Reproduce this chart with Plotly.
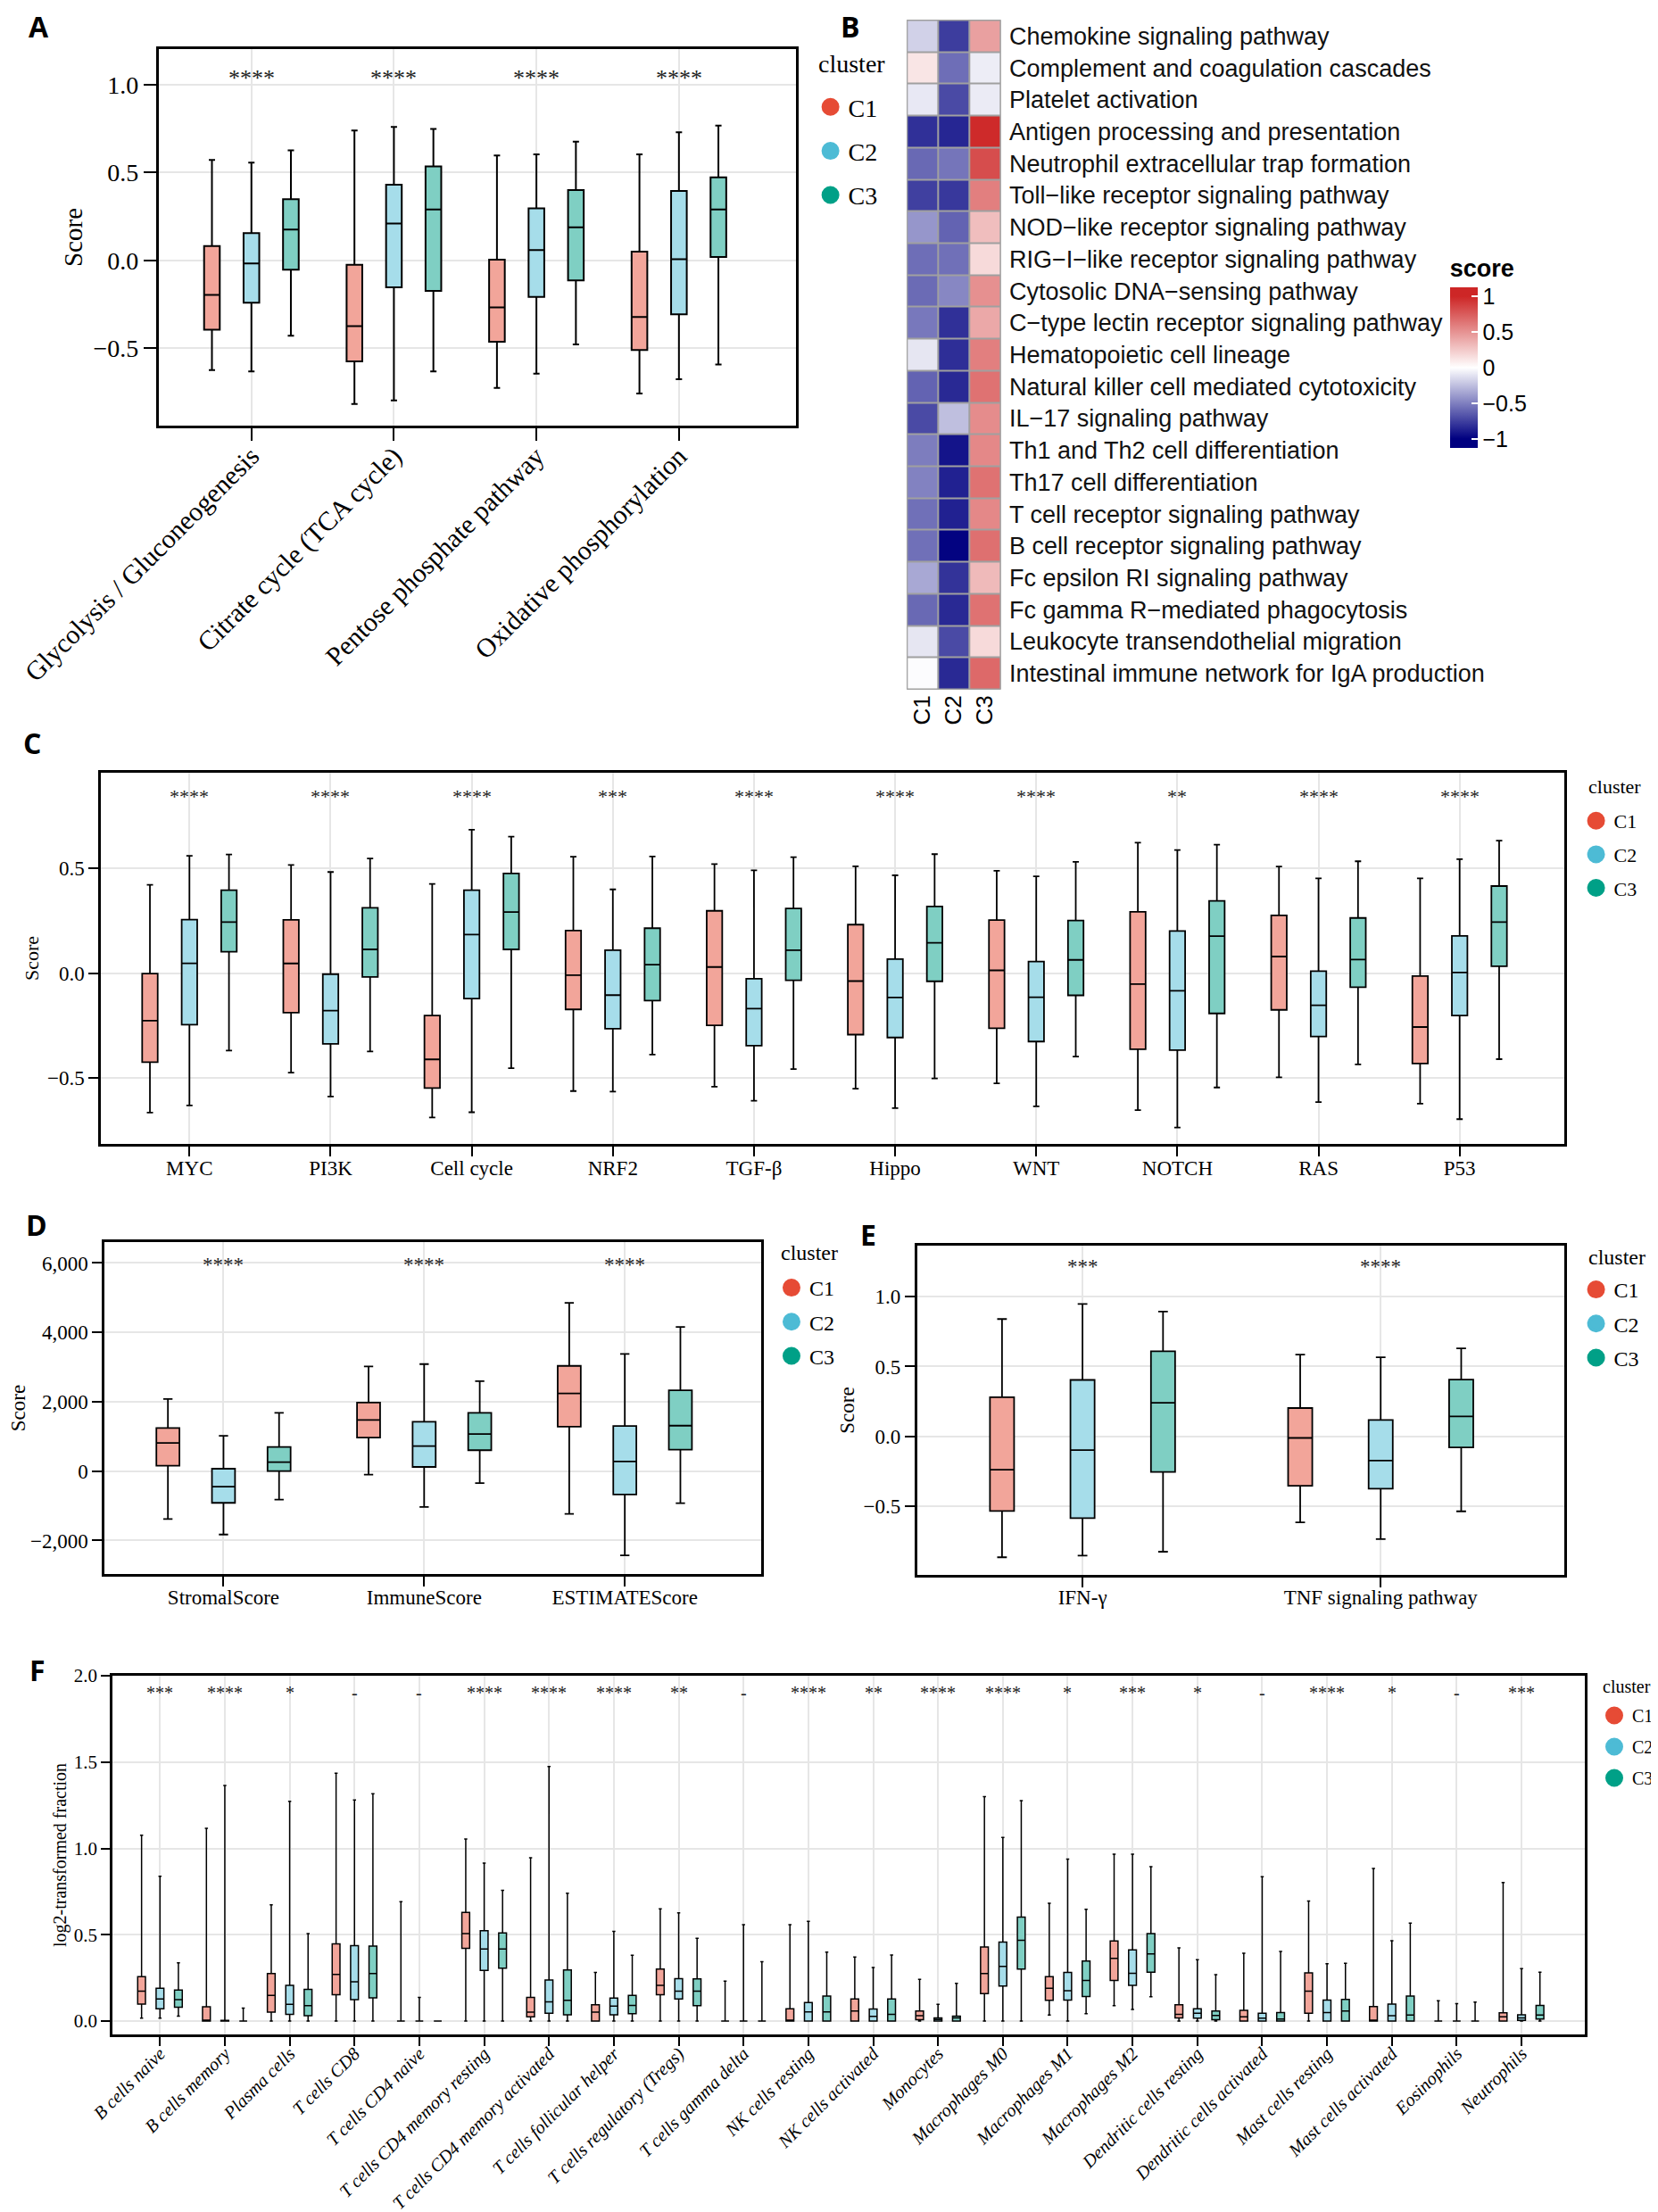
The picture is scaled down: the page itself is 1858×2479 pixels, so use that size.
import plotly.graph_objects as go

W, H = 1858, 2479
OFFY = 8                    # default page margin of the html body
OFFX = 4
FW, FH = W - 8, H - 8       # figure size so that it fits the window exactly
SERIF = "Liberation Serif"
SANS = "Liberation Sans"
clusters = ["C1", "C2", "C3"]
C_COL = {"C1": "#E64B35", "C2": "#4DBBD5", "C3": "#00A087"}
C_FILL = {"C1": "#F2A59A", "C2": "#A6DDEA", "C3": "#7FCFC3"}

# ---------------- Panel A (low, q1, median, q3, high) ----------------
A_categories = ["Glycolysis / Gluconeogenesis", "Citrate cycle (TCA cycle)",
                "Pentose phosphate pathway", "Oxidative phosphorylation"]
A_sig = ["****", "****", "****", "****"]
A_C1 = [(-0.624, -0.394, -0.196, 0.082, 0.572), (-0.817, -0.574, -0.374, -0.025, 0.740),
        (-0.725, -0.463, -0.267, 0.005, 0.597), (-0.757, -0.510, -0.322, 0.050, 0.604)]
A_C2 = [(-0.631, -0.240, -0.017, 0.156, 0.557), (-0.797, -0.153, 0.210, 0.431, 0.760),
        (-0.644, -0.208, 0.059, 0.297, 0.604), (-0.676, -0.307, 0.007, 0.396, 0.730)]
A_C3 = [(-0.428, -0.052, 0.176, 0.349, 0.626), (-0.631, -0.173, 0.290, 0.535, 0.748),
        (-0.478, -0.114, 0.188, 0.401, 0.676), (-0.592, 0.020, 0.290, 0.473, 0.767)]

# ---------------- Panel B heatmap ----------------
M = "\u2212"
B_pathways = ["Chemokine signaling pathway", "Complement and coagulation cascades",
              "Platelet activation", "Antigen processing and presentation",
              "Neutrophil extracellular trap formation", f"Toll{M}like receptor signaling pathway",
              f"NOD{M}like receptor signaling pathway", f"RIG{M}I{M}like receptor signaling pathway",
              f"Cytosolic DNA{M}sensing pathway", f"C{M}type lectin receptor signaling pathway",
              "Hematopoietic cell lineage", "Natural killer cell mediated cytotoxicity",
              f"IL{M}17 signaling pathway", "Th1 and Th2 cell differentiation",
              "Th17 cell differentiation", "T cell receptor signaling pathway",
              "B cell receptor signaling pathway", "Fc epsilon RI signaling pathway",
              f"Fc gamma R{M}mediated phagocytosis", "Leukocyte transendothelial migration",
              "Intestinal immune network for IgA production"]
B_C1 = [-0.18, 0.12, -0.09, -0.81, -0.59, -0.75, -0.41, -0.57, -0.58, -0.53, -0.10,
        -0.61, -0.71, -0.51, -0.49, -0.56, -0.56, -0.34, -0.59, -0.10, -0.01]
B_C2 = [-0.76, -0.57, -0.71, -0.85, -0.54, -0.78, -0.61, -0.56, -0.47, -0.81, -0.82,
        -0.84, -0.25, -0.92, -0.87, -0.87, -0.99, -0.80, -0.84, -0.71, -0.84]
B_C3 = [0.44, -0.07, -0.08, 0.98, 0.82, 0.59, 0.30, 0.17, 0.51, 0.40, 0.59,
        0.65, 0.53, 0.55, 0.65, 0.55, 0.66, 0.32, 0.65, 0.17, 0.69]
B_cbar_vals = [-1, -0.5, 0, 0.5, 1]
B_cbar_text = [f"{M}1", f"{M}0.5", "0", "0.5", "1"]
B_zlim = 1.128   # colour bar reaches a little past +-1, solid end colours beyond +-1

# ---------------- Panel C ----------------
C_categories = ["MYC", "PI3K", "Cell cycle", "NRF2", "TGF-\u03b2", "Hippo", "WNT", "NOTCH", "RAS", "P53"]
C_sig = ["****", "****", "****", "***", "****", "****", "****", "**", "****", "****"]
C_C1 = [(-0.664, -0.423, -0.226, -0.001, 0.422), (-0.473, -0.187, 0.047, 0.255, 0.516),
        (-0.687, -0.547, -0.410, -0.201, 0.426), (-0.561, -0.172, -0.009, 0.204, 0.556),
        (-0.540, -0.248, 0.030, 0.298, 0.521), (-0.550, -0.292, -0.037, 0.232, 0.510),
        (-0.524, -0.262, 0.014, 0.254, 0.489), (-0.652, -0.362, -0.051, 0.293, 0.623),
        (-0.496, -0.174, 0.080, 0.276, 0.509), (-0.621, -0.430, -0.256, -0.013, 0.453)]
C_C2 = [(-0.630, -0.245, 0.048, 0.256, 0.560), (-0.587, -0.336, -0.178, -0.004, 0.483),
        (-0.662, -0.120, 0.185, 0.396, 0.684), (-0.564, -0.264, -0.104, 0.110, 0.400),
        (-0.607, -0.345, -0.168, -0.026, 0.491), (-0.642, -0.306, -0.115, 0.068, 0.467),
        (-0.634, -0.325, -0.114, 0.056, 0.462), (-0.735, -0.366, -0.083, 0.202, 0.588),
        (-0.614, -0.301, -0.152, 0.010, 0.453), (-0.695, -0.201, 0.004, 0.178, 0.544)]
C_C3 = [(-0.368, 0.103, 0.244, 0.396, 0.566), (-0.372, -0.017, 0.114, 0.312, 0.547),
        (-0.452, 0.114, 0.292, 0.476, 0.651), (-0.387, -0.130, 0.041, 0.215, 0.557),
        (-0.456, -0.033, 0.110, 0.309, 0.554), (-0.501, -0.038, 0.145, 0.319, 0.568),
        (-0.397, -0.105, 0.064, 0.252, 0.531), (-0.544, -0.191, 0.177, 0.345, 0.613),
        (-0.434, -0.066, 0.066, 0.264, 0.534), (-0.409, 0.034, 0.244, 0.416, 0.632)]

# ---------------- Panel D ----------------
D_categories = ["StromalScore", "ImmuneScore", "ESTIMATEScore"]
D_sig = ["****", "****", "****"]
D_C1 = [(-1379, 155, 810, 1241, 2078), (-103, 966, 1474, 1974, 3017), (-1233, 1284, 2241, 3034, 4853)]
D_C2 = [(-1828, -914, -448, 69, 1017), (-1034, 121, 724, 1422, 3086), (-2431, -672, 276, 1302, 3379)]
D_C3 = [(-819, 0, 259, 698, 1681), (-345, 603, 1069, 1681, 2595), (-922, 621, 1310, 2328, 4155)]

# ---------------- Panel E ----------------
E_categories = ["IFN-\u03b3", "TNF signaling pathway"]
E_sig = ["***", "****"]
E_C1 = [(-0.865, -0.534, -0.239, 0.280, 0.840), (-0.615, -0.353, -0.011, 0.203, 0.585)]
E_C2 = [(-0.853, -0.585, -0.098, 0.404, 0.947), (-0.735, -0.374, -0.173, 0.118, 0.566)]
E_C3 = [(-0.825, -0.254, 0.241, 0.609, 0.893), (-0.536, -0.079, 0.143, 0.406, 0.630)]

# ---------------- Panel F ----------------
F_categories = ["B cells naive", "B cells memory", "Plasma cells", "T cells CD8", "T cells CD4 naive",
                "T cells CD4 memory resting", "T cells CD4 memory activated", "T cells follicular helper",
                "T cells regulatory (Tregs)", "T cells gamma delta", "NK cells resting",
                "NK cells activated", "Monocytes", "Macrophages M0", "Macrophages M1", "Macrophages M2",
                "Dendritic cells resting", "Dendritic cells activated", "Mast cells resting",
                "Mast cells activated", "Eosinophils", "Neutrophils"]
F_sig = ["***", "****", "*", "-", "-", "****", "****", "****", "**", "-", "****", "**", "****",
         "****", "*", "***", "*", "-", "****", "*", "-", "***"]
F_C1 = [(0.017, 0.099, 0.174, 0.257, 1.077), (0, 0, 0, 0.083, 1.116), (0, 0.052, 0.149, 0.275, 0.673),
        (0, 0.153, 0.271, 0.447, 1.435), (0, 0, 0, 0, 0.692), (0, 0.422, 0.507, 0.629, 1.054),
        (0, 0.025, 0.052, 0.137, 0.946), (0, 0, 0.052, 0.095, 0.282), (0, 0.153, 0.207, 0.302, 0.650),
        (0, 0, 0, 0, 0.232), (0, 0, 0, 0.072, 0.559), (0, 0, 0.058, 0.128, 0.371),
        (0, 0.008, 0.031, 0.058, 0.242), (0, 0.159, 0.275, 0.429, 1.300), (0.035, 0.120, 0.190, 0.257, 0.683),
        (0.089, 0.236, 0.364, 0.464, 0.967), (0, 0.019, 0.039, 0.095, 0.424), (0, 0, 0.025, 0.062, 0.393),
        (0, 0.046, 0.174, 0.280, 0.696), (0, 0, 0, 0.085, 0.884), (0, 0, 0, 0, 0.118),
        (0, 0, 0.025, 0.048, 0.803)]
F_C2 = [(0.017, 0.072, 0.128, 0.190, 0.839), (0, 0, 0.002, 0.004, 1.364), (0, 0.039, 0.097, 0.207, 1.273),
        (0, 0.124, 0.228, 0.437, 1.280), (0, 0, 0, 0, 0.137), (0, 0.294, 0.418, 0.524, 0.915),
        (0, 0.046, 0.112, 0.238, 1.474), (0, 0.037, 0.087, 0.133, 0.520), (0, 0.128, 0.174, 0.246, 0.627),
        (0, 0, 0, 0, 0.559), (0, 0, 0.054, 0.108, 0.578), (0, 0, 0.027, 0.070, 0.311),
        (0, 0, 0.010, 0.019, 0.097), (0, 0.203, 0.317, 0.458, 1.064), (0, 0.122, 0.176, 0.282, 0.938),
        (0.068, 0.207, 0.277, 0.412, 0.967), (0, 0.017, 0.046, 0.072, 0.356), (0, 0, 0.017, 0.046, 0.836),
        (0, 0, 0.050, 0.122, 0.333), (0, 0, 0.031, 0.099, 0.466), (0, 0, 0, 0, 0.101),
        (0, 0.004, 0.019, 0.037, 0.304)]
F_C3 = [(0.029, 0.081, 0.124, 0.180, 0.337), (0, 0, 0, 0, 0.075), (0, 0.031, 0.089, 0.184, 0.507),
        (0, 0.135, 0.275, 0.435, 1.317), (0, 0, 0, 0, 0), (0, 0.306, 0.418, 0.511, 0.758),
        (0, 0.037, 0.120, 0.296, 0.741), (0, 0.043, 0.091, 0.149, 0.381), (0, 0.089, 0.174, 0.244, 0.480),
        (0, 0, 0, 0, 0.344), (0, 0, 0.054, 0.145, 0.400), (0, 0, 0.039, 0.128, 0.383),
        (0, 0, 0.019, 0.029, 0.219), (0, 0.302, 0.468, 0.602, 1.277), (0.043, 0.143, 0.236, 0.348, 0.648),
        (0.141, 0.284, 0.389, 0.507, 0.894), (0, 0.008, 0.033, 0.058, 0.269), (0, 0, 0.012, 0.050, 0.404),
        (0, 0, 0.058, 0.126, 0.335), (0, 0, 0.035, 0.145, 0.567), (0, 0, 0, 0, 0.110),
        (0, 0.012, 0.035, 0.091, 0.284)]


def px(a):
    return (a - OFFX) / FW


def py(b):
    return 1 - (b - OFFY) / FH


def xd(a, b):
    return [px(a), px(b)]


def yd(top, bottom):
    return [py(bottom), py(top)]


fig = go.Figure()


def add_boxes(ax, stats, offset, width, lw):
    for k, cl in enumerate(clusters):
        s = stats[k]
        pos = [i + (k - 1) * offset for i in range(len(s))]
        fig.add_trace(go.Box(
            x=pos, lowerfence=[t[0] for t in s], q1=[t[1] for t in s], median=[t[2] for t in s],
            q3=[t[3] for t in s], upperfence=[t[4] for t in s], width=width, whiskerwidth=0.4,
            fillcolor=C_FILL[cl], line=dict(color="black", width=lw), boxpoints=False,
            xaxis="x" + ax, yaxis="y" + ax, showlegend=False, hoverinfo="skip"))


def add_legend(ax, lname, x_left, top, fs, gap, title_x, title_y):
    for cl in clusters:
        fig.add_trace(go.Scatter(
            x=[None], y=[None], mode="markers", name=cl, legend=lname, legendgroup=lname + cl,
            marker=dict(color=C_COL[cl], size=16, line=dict(color=C_COL[cl], width=4)),
            xaxis="x" + ax, yaxis="y" + ax, showlegend=True, hoverinfo="skip"))
    fig.add_annotation(x=px(title_x), y=py(title_y), xref="paper", yref="paper", text="cluster",
                       showarrow=False, xanchor="left", yanchor="middle",
                       font=dict(family=SERIF, size=fs, color="black"))
    return dict(x=px(x_left), y=py(top), xanchor="left", yanchor="top",
                font=dict(family=SERIF, size=fs, color="black"), bgcolor="rgba(0,0,0,0)",
                tracegroupgap=gap, itemwidth=30, borderwidth=0)


def add_sig(ax, sig, yv, fs):
    for i, s in enumerate(sig):
        fig.add_annotation(x=i, y=yv, xref="x" + ax, yref="y" + ax, text=s, showarrow=False,
                           font=dict(family=SERIF, size=fs, color="#222222"), yanchor="middle")


def box_axes(xdom, ydom, xr, yr, cats, ytv, yfmt, fs_y, fs_x, xangle, ytitle, fs_t, tl,
             anchor, xitalic=False, standoff=4, xstand=0):
    xa = dict(domain=xdom, range=xr, tickmode="array", tickvals=list(range(len(cats))), ticktext=cats,
              tickangle=xangle, showgrid=True, gridcolor="#E6E6E6", gridwidth=1.5, zeroline=False,
              showline=True, linecolor="black", linewidth=2.5, mirror=True, ticks="outside",
              ticklen=tl, tickwidth=2, tickcolor="black", anchor="y" + anchor, automargin=False,
              ticklabelstandoff=xstand,
              tickfont=dict(family=SERIF, size=fs_x, color="black",
                            style="italic" if xitalic else "normal"))
    ya = dict(domain=ydom, range=yr, tickmode="array", tickvals=ytv, tickformat=yfmt,
              showgrid=True, gridcolor="#E6E6E6", gridwidth=2, zeroline=False,
              showline=True, linecolor="black", linewidth=2.5, mirror=True, ticks="outside",
              ticklen=tl, tickwidth=2, tickcolor="black", anchor="x" + anchor, automargin=False,
              tickfont=dict(family=SERIF, size=fs_y, color="black"),
              title=dict(text=ytitle, font=dict(family=SERIF, size=fs_t, color="black"), standoff=standoff))
    return xa, ya


# ---- traces ----
add_boxes("", [A_C1, A_C2, A_C3], 0.277, 0.11, 2)
legA = add_legend("", "legend", 914, 95, 28, 10, 918, 71)
add_sig("", A_sig, 1.04, 26)

B_z = [[B_C1[i], B_C2[i], B_C3[i]] for i in range(len(B_pathways))]
edge = (B_zlim - 1) / (2 * B_zlim)
fig.add_trace(go.Heatmap(
    z=B_z, x=clusters, y=B_pathways, xaxis="x2", yaxis="y2", zmin=-B_zlim, zmax=B_zlim, xgap=2, ygap=2,
    colorscale=[[0, "#000080"], [edge, "#000080"], [0.5, "#FFFFFF"], [1 - edge, "#CD2626"], [1, "#CD2626"]],
    hoverinfo="skip",
    colorbar=dict(x=px(1634), xanchor="left", y=py(287), yanchor="top", len=215 / FH,
                  lenmode="fraction", thickness=31, thicknessmode="pixels", outlinewidth=0,
                  tickmode="array", tickvals=B_cbar_vals, ticktext=B_cbar_text, ticks="inside",
                  ticklen=7, tickwidth=2, tickcolor="white", xpad=0, ypad=0,
                  tickfont=dict(family=SANS, size=25, color="black"),
                  title=dict(text="<b>score</b>", side="top", font=dict(family=SANS, size=27, color="black")))))

add_boxes("3", [C_C1, C_C2, C_C3], 0.28, 0.11, 1.8)
legC = add_legend("3", "legend2", 1779, 899, 22, 6, 1788, 882)
add_sig("3", C_sig, 0.845, 22)

add_boxes("4", [D_C1, D_C2, D_C3], 0.277, 0.115, 1.8)
legD = add_legend("4", "legend3", 870, 1421, 24, 4, 876, 1404)
add_sig("4", D_sig, 5950, 23)

add_boxes("5", [E_C1, E_C2, E_C3], 0.27, 0.081, 1.8)
legE = add_legend("5", "legend4", 1779, 1423, 24, 4, 1788, 1409)
add_sig("5", E_sig, 1.215, 23)

add_boxes("6", [F_C1, F_C2, F_C3], 0.284, 0.12, 1.5)
legF = add_legend("6", "legend5", 1800, 1903, 20, 6, 1805, 1890)
add_sig("6", F_sig, 1.9, 20)

# ---- axes ----
xA, yA = box_axes(xd(175, 895), yd(55, 477), [-0.652, 3.82], [-0.94, 1.203], A_categories,
                  [-0.5, 0, 0.5, 1.0], ".1f", 28, 30, -45, "Score", 29, 14, "", xstand=-12)
xC, yC = box_axes(xd(110, 1763), yd(866, 1282), [-0.627, 9.74], [-0.813, 0.956], C_categories,
                  [-0.5, 0, 0.5], ".1f", 23, 23, 0, "Score", 22, 11, "3", xstand=-6)
xD, yD = box_axes(xd(114, 856), yd(1392, 1764), [-0.593, 2.68], [-2966, 6603], D_categories,
                  [-2000, 0, 2000, 4000, 6000], ",", 23, 23, 0, "Score", 23, 11, "4", xstand=-7)
xE, yE = box_axes(xd(1032, 1763), yd(1396, 1765), [-0.555, 1.615], [-0.991, 1.365], E_categories,
                  [-0.5, 0, 0.5, 1.0], ".1f", 23, 23, 0, "Score", 23, 11, "5", xstand=-8)
xF, yF = box_axes(xd(123, 1786), yd(1878, 2280), [-0.733, 21.97], [-0.077, 2.0], F_categories,
                  [0, 0.5, 1.0, 1.5, 2.0], ".1f", 21, 20.3, -45, "log2-transformed fraction", 20, 10, "6",
                  xitalic=True, standoff=3, xstand=-11)

xB = dict(domain=xd(1020, 1127), anchor="y2", tickangle=-90, ticks="", showline=False, showgrid=False,
          zeroline=False, automargin=False, tickfont=dict(family=SANS, size=26, color="black"))
yB = dict(domain=yd(22, 773), anchor="x2", side="right", autorange="reversed", ticks="", showline=False,
          showgrid=False, zeroline=False, automargin=False, ticklabelstandoff=8,
          tickfont=dict(family=SANS, size=27, color="#111111"))

fig.add_shape(type="rect", xref="x2", yref="y2", x0=-0.5, x1=2.5, y0=-0.5, y1=20.5, layer="below",
              fillcolor="#A0A0A0", line=dict(color="#A0A0A0", width=1))

# ---- panel letters ----
for letter, lx, ly in [("A", 40, 29), ("B", 957, 30), ("C", 32, 832), ("D", 37, 1372),
                       ("E", 977, 1383), ("F", 38, 1871)]:
    fig.add_annotation(x=px(lx), y=py(ly), xref="paper", yref="paper", text=letter, showarrow=False,
                       xanchor="center", yanchor="middle",
                       font=dict(family="Open Sans", size=32, color="black", weight=700))

fig.update_layout(
    width=FW, height=FH, margin=dict(l=0, r=0, t=0, b=0), paper_bgcolor="white", plot_bgcolor="white",
    boxmode="overlay", showlegend=True,
    xaxis=xA, yaxis=yA, xaxis2=xB, yaxis2=yB, xaxis3=xC, yaxis3=yC, xaxis4=xD, yaxis4=yD,
    xaxis5=xE, yaxis5=yE, xaxis6=xF, yaxis6=yF,
    legend=legA, legend2=legC, legend3=legD, legend4=legE, legend5=legF,
)

fig.write_html("out.html")
